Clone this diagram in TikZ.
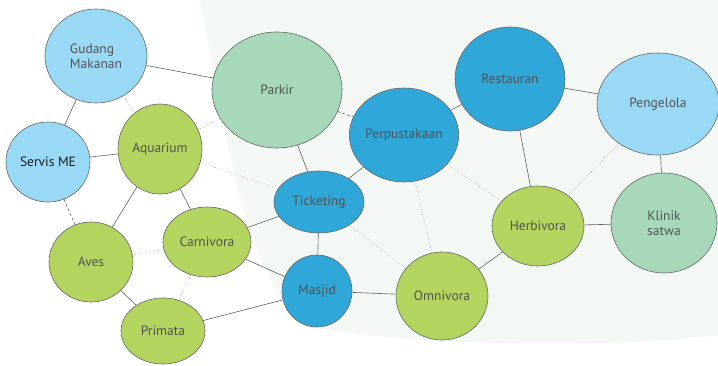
\documentclass[tikz,border=0pt]{standalone}
\usepackage{fontspec}
\setmainfont{PT Sans}
\usetikzlibrary{shapes.geometric}
\definecolor{lbcol}{HTML}{9AD9F5}
\definecolor{dbcol}{HTML}{30A7D9}
\definecolor{grcol}{HTML}{B3D45F}
\definecolor{mtcol}{HTML}{A7D8B9}
\definecolor{bgtint}{HTML}{F3F8F4}
\begin{document}
\begin{tikzpicture}[x=1pt,y=-1pt,
  nd/.style={ellipse, draw=gray!80!black, line width=0.6pt, text=black!68, font=\fontsize{13.5}{15}\selectfont, align=left, inner sep=0pt},
  lb/.style={nd, fill=lbcol},
  db/.style={nd, fill=dbcol},
  gr/.style={nd, fill=grcol},
  mt/.style={nd, fill=mtcol},
  sl/.style={draw=gray!75!black, line width=0.6pt},
  dt/.style={draw=gray!75, line width=0.6pt, dotted},
  ds/.style={draw=gray!75!black, line width=0.6pt, dash pattern=on 3pt off 2pt}]
\useasboundingbox (0,0) rectangle (718,366);
\fill[white] (0,0) rectangle (718,366);
\fill[bgtint] (200,0) -- (718,0) -- (718,335) .. controls (600,350) and (400,345) .. (300,325) .. controls (240,250) and (230,150) .. (200,0) -- cycle;
\def\el#1#2#3#4#5#6{\node[#1, minimum width=#4*2pt, minimum height=#5*2pt] (#2) at #3 {#6};}
\el{lb}{gud}{(96,56)}{51}{47}{Gudang\\Makanan}
\el{lb}{ser}{(48,162)}{42}{40}{\textcolor{black!90}{Servis ME}}
\el{gr}{aqu}{(160,149)}{42}{45}{Aquarium}
\el{gr}{ave}{(91,262)}{42}{40}{Aves}
\el{gr}{car}{(207,242)}{44}{35}{Carnivora}
\el{gr}{pri}{(163,331)}{42}{33}{Primata}
\el{mt}{par}{(277,90)}{65}{58}{Parkir}
\el{db}{per}{(404,135)}{52}{47}{Perpustakaan}
\el{db}{tic}{(319,202)}{45}{31}{Ticketing}
\el{db}{mas}{(317,291)}{35}{36}{Masjid}
\el{gr}{omn}{(442,296)}{46}{44}{Omnivora}
\el{db}{res}{(510,79)}{55}{52}{Restauran}
\el{lb}{pen}{(658,104)}{61}{51}{Pengelola}
\el{gr}{her}{(538,226)}{46}{40}{Herbivora}
\node[mt, align=center, minimum width=106pt, minimum height=100pt] (kli) at (664,223) {Klinik\\satwa};
\path[sl] (gud) -- (par) (gud) -- (ser) (ser) -- (aqu) (aqu) -- (ave) (aqu) -- (car)
  (ave) -- (pri) (car) -- (tic) (car) -- (mas) (pri) -- (mas) (par) -- (tic)
  (tic) -- (per) (tic) -- (mas) (mas) -- (omn) (per) -- (res) (res) -- (pen)
  (res) -- (her) (pen) -- (kli) (her) -- (kli) (her) -- (omn);
\path[dt] (gud) -- (aqu) (aqu) -- (par) (aqu) -- (tic) (ave) -- (car) (car) -- (pri)
  (tic) -- (omn) (per) -- (omn) (per) -- (her) (pen) -- (her);
\path[ds] (ser) -- (ave) (par) -- (per);
\end{tikzpicture}
\end{document}
